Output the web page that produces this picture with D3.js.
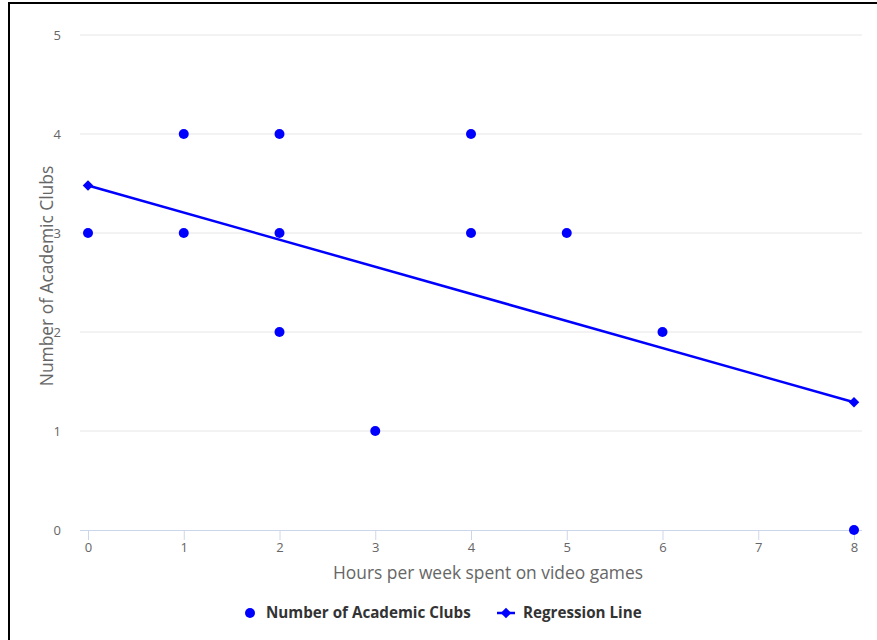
<!DOCTYPE html>
<html>
<head>
<meta charset="utf-8">
<script src="https://cdn.jsdelivr.net/npm/d3@7"></script>
<style>
  html, body { margin: 0; padding: 0; background: #fff; }
  svg { display: block; }
</style>
</head>
<body>
<svg id="chart" width="877" height="640"></svg>
<script>
// Data
const hours = [0, 1, 1, 2, 2, 2, 3, 4, 4, 5, 6, 8];
const clubs = [3, 4, 3, 4, 3, 2, 1, 4, 3, 3, 2, 0];
const regX = [0, 8];
const regY = [3.48, 1.29];
const xTicks = [0, 1, 2, 3, 4, 5, 6, 7, 8];
const yTicks = [0, 1, 2, 3, 4, 5];
const seriesNames = ["Number of Academic Clubs", "Regression Line"];
const xTitle = "Hours per week spent on video games";
const yTitle = "Number of Academic Clubs";

const font = "'Open Sans', 'Lucida Grande', 'DejaVu Sans', sans-serif";
const blue = "#0000ff";
const svg = d3.select("#chart");

// border
svg.append("rect").attr("x", 9).attr("y", 3).attr("width", 900).attr("height", 700)
  .attr("fill", "none").attr("stroke", "#000").attr("stroke-width", 2);

const plotL = 80, plotR = 862, plotT = 35, plotB = 530;
const x = d3.scaleLinear().domain([0, 8]).range([88, 854]);
const y = d3.scaleLinear().domain([0, 5]).range([plotB, plotT]);

// gridlines
svg.append("g").selectAll("line").data(yTicks.filter(d => d > 0)).join("line")
  .attr("x1", plotL).attr("x2", plotR)
  .attr("y1", d => y(d)).attr("y2", d => y(d))
  .attr("stroke", "#e6e6e6").attr("stroke-width", 1);

// y axis labels
const yAxis = d3.axisLeft(y).tickValues(yTicks).tickFormat(d3.format("d")).tickSize(0).tickPadding(0);
const gy = svg.append("g").attr("transform", `translate(61,0)`).call(yAxis);
gy.select(".domain").remove();
gy.selectAll("text").attr("fill", "#666").style("font-family", font).style("font-size", "13px")
  .attr("dy", "0.32em");

// x axis
const xAxis = d3.axisBottom(x).tickValues(xTicks).tickFormat(d3.format("d")).tickSize(10).tickPadding(3).tickSizeOuter(0);
const gx = svg.append("g").attr("transform", `translate(0,${plotB})`).call(xAxis);
gx.select(".domain").remove();
gx.append("line").attr("x1", plotL).attr("x2", plotR).attr("y1", 0.5).attr("y2", 0.5)
  .attr("stroke", "#ccd6eb");
gx.selectAll(".tick line").attr("stroke", "#ccd6eb");
gx.selectAll(".tick text").attr("fill", "#666").style("font-family", font).style("font-size", "13px");

// axis titles
svg.append("text").attr("x", 488).attr("y", 579)
  .attr("text-anchor", "middle").attr("fill", "#666")
  .style("font-family", font).style("font-size", "17.4px").text(xTitle);
svg.append("text").attr("transform", `translate(53,276) rotate(-90)`)
  .attr("text-anchor", "middle").attr("fill", "#666")
  .style("font-family", font).style("font-size", "17.4px").text(yTitle);

// regression line
const reg = regX.map((d, i) => [d, regY[i]]);
svg.append("path").datum(reg)
  .attr("d", d3.line().x(d => x(d[0])).y(d => y(d[1])))
  .attr("fill", "none").attr("stroke", blue).attr("stroke-width", 2.5);
const diamond = d3.symbol().type(d3.symbolDiamond2).size(70);
svg.append("g").selectAll("path").data(reg).join("path")
  .attr("transform", d => `translate(${x(d[0])},${y(d[1])})`)
  .attr("d", diamond).attr("fill", blue);

// scatter points
svg.append("g").selectAll("circle").data(hours.map((h, i) => [h, clubs[i]])).join("circle")
  .attr("cx", d => x(d[0])).attr("cy", d => y(d[1])).attr("r", 5)
  .attr("fill", blue);

// legend
const lg = svg.append("g");
lg.append("circle").attr("cx", 250).attr("cy", 613).attr("r", 5).attr("fill", blue);
lg.append("text").attr("x", 266).attr("y", 618).attr("fill", "#333")
  .style("font-family", font).style("font-size", "15.2px").style("font-weight", "bold")
  .text(seriesNames[0]);
lg.append("line").attr("x1", 497).attr("x2", 515).attr("y1", 613).attr("y2", 613)
  .attr("stroke", blue).attr("stroke-width", 2.5);
lg.append("path").attr("transform", "translate(506,613)").attr("d", diamond).attr("fill", blue);
lg.append("text").attr("x", 523).attr("y", 618).attr("fill", "#333")
  .style("font-family", font).style("font-size", "15.2px").style("font-weight", "bold")
  .text(seriesNames[1]);
</script>
</body>
</html>
